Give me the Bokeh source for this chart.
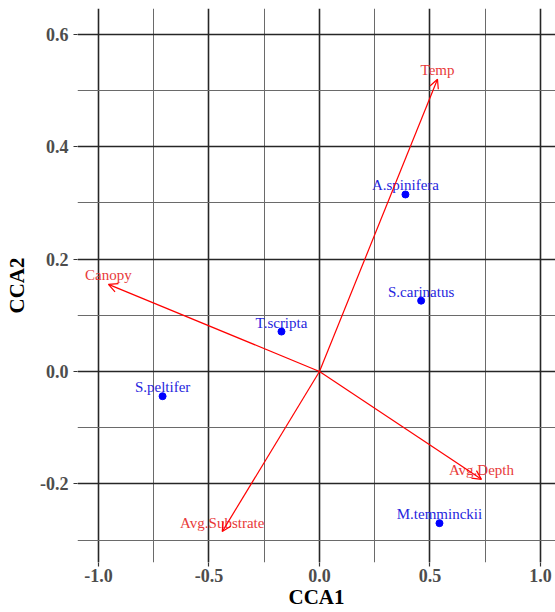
from bokeh.plotting import figure
from bokeh.models import (ColumnDataSource, Arrow, OpenHead, FixedTicker,
                          CustomJSTickFormatter, Range1d)
from bokeh.embed import file_html
from bokeh.resources import INLINE

# Species scores
species = ["A.spinifera", "S.carinatus", "T.scripta", "S.peltifer", "M.temminckii"]
sp_cca1 = [0.389, 0.46, -0.172, -0.71, 0.543]
sp_cca2 = [0.315, 0.126, 0.071, -0.044, -0.270]

# Environmental vectors
env = ["Temp", "Canopy", "Avg.Depth", "Avg.Substrate"]
env_cca1 = [0.534, -0.955, 0.733, -0.44]
env_cca2 = [0.520, 0.155, -0.192, -0.285]

x_major = [-1.0, -0.5, 0.0, 0.5, 1.0]
x_minor = [-0.75, -0.25, 0.25, 0.75]
y_major = [-0.2, 0.0, 0.2, 0.4, 0.6]
y_minor = [-0.3, -0.1, 0.1, 0.3, 0.5]

SERIF = "Liberation Serif"

p = figure(width=555, height=612, output_backend="svg", toolbar_location=None,
           x_range=Range1d(-1.095, 1.068), y_range=Range1d(-0.340, 0.646),
           min_border_left=77, min_border_right=0, min_border_top=8,
           min_border_bottom=50, x_axis_label="CCA1", y_axis_label="CCA2")
p.outline_line_color = None
p.background_fill_color = "white"
p.border_fill_color = "white"

p.xaxis.ticker = FixedTicker(ticks=x_major, minor_ticks=x_minor)
p.yaxis.ticker = FixedTicker(ticks=y_major, minor_ticks=y_minor)
p.xaxis.formatter = CustomJSTickFormatter(code="return tick.toFixed(1);")
p.yaxis.formatter = CustomJSTickFormatter(code="return tick.toFixed(1);")

for ax in (p.xaxis, p.yaxis):
    ax.axis_line_color = None
    ax.minor_tick_line_color = None
    ax.major_tick_line_color = "#333333"
    ax.major_tick_line_width = 1.2
    ax.major_tick_in = 0
    ax.major_tick_out = 4
    ax.major_label_text_font = SERIF
    ax.major_label_text_font_style = "bold"
    ax.major_label_text_font_size = "18px"
    ax.major_label_text_color = "#4d4d4d"
    ax.axis_label_text_font = SERIF
    ax.axis_label_text_font_style = "bold"
    ax.axis_label_text_font_size = "21px"
    ax.axis_label_text_color = "black"

p.xaxis.major_label_standoff = 2
p.xaxis.axis_label_standoff = 0
p.yaxis.major_label_standoff = 5
p.yaxis.axis_label_standoff = 8

for g in (p.xgrid, p.ygrid):
    g.grid_line_color = "#262626"
    g.grid_line_width = 1.6
    g.minor_grid_line_color = "#6a6a6a"
    g.minor_grid_line_width = 1.0

# Arrows
n = len(env)
asrc = ColumnDataSource(dict(x0=[0.0] * n, y0=[0.0] * n, x1=env_cca1, y1=env_cca2, name=env))
p.add_layout(Arrow(end=OpenHead(size=9, line_color="red", line_width=1.2),
                   x_start="x0", y_start="y0", x_end="x1", y_end="y1",
                   line_color="red", line_width=1.2, source=asrc))
p.text(x="x1", y="y1", text="name", source=asrc, text_align="center",
       text_baseline="alphabetic", y_offset=-9, text_color="#e83a3a",
       text_font={"value": SERIF}, text_font_size="15px")

# Species points
ssrc = ColumnDataSource(dict(x=sp_cca1, y=sp_cca2, name=species))
p.scatter(x="x", y="y", source=ssrc, size=7, color="blue")
p.text(x="x", y="y", text="name", source=ssrc, text_align="center",
       text_baseline="alphabetic", y_offset=-9, text_color="#2626dd",
       text_font={"value": SERIF}, text_font_size="15px")

open("out.html", "w").write(file_html(p, INLINE))
